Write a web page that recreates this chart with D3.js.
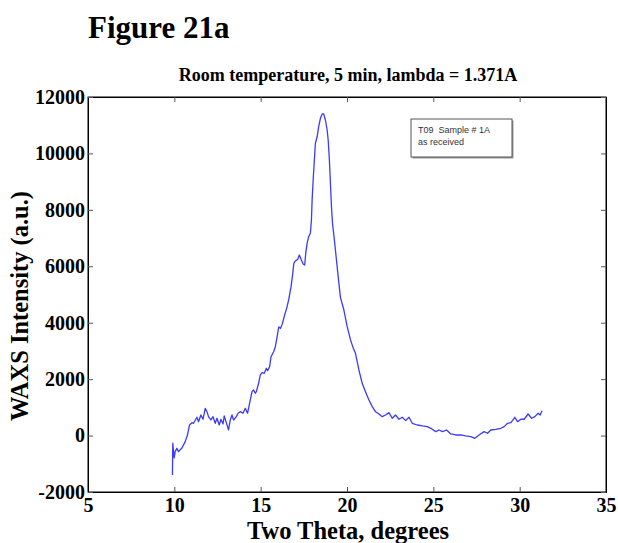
<!DOCTYPE html>
<html><head><meta charset="utf-8">
<script src="https://cdn.jsdelivr.net/npm/d3@7/dist/d3.min.js"></script>
<style>body{margin:0;background:#fff}svg{display:block}</style>
</head><body>
<svg id="c" width="618" height="543"></svg>
<script>
const figureLabel = "Figure 21a";
const chartTitle = "Room temperature, 5 min, lambda = 1.371A";
const xLabel = "Two Theta, degrees";
const yLabel = "WAXS Intensity (a.u.)";
const legendLines = ["T09  Sample # 1A", "as received"];
const xTicks = [5, 10, 15, 20, 25, 30, 35];
const yTicks = [-2000, 0, 2000, 4000, 6000, 8000, 10000, 12000];

const twoTheta = [9.89,9.91,9.99,10.05,10.15,10.24,10.44,10.63,10.76,10.88,11.02,11.11,11.31,11.40,11.54,11.66,11.79,11.89,11.98,12.12,12.24,12.37,12.47,12.60,12.70,12.82,12.89,13.01,13.14,13.24,13.34,13.43,13.59,13.69,13.82,13.98,14.11,14.24,14.40,14.50,14.59,14.69,14.75,14.88,14.98,15.08,15.21,15.33,15.40,15.52,15.60,15.75,15.85,15.95,16.05,16.15,16.25,16.40,16.50,16.62,16.76,16.86,16.92,17.01,17.15,17.24,17.34,17.46,17.55,17.61,17.69,17.78,17.88,17.94,17.98,18.04,18.11,18.17,18.27,18.36,18.46,18.56,18.65,18.75,18.85,18.91,18.98,19.04,19.10,19.16,19.27,19.39,19.51,19.62,19.82,20.01,20.20,20.36,20.49,20.69,20.88,21.07,21.27,21.46,21.65,21.85,22.04,22.23,22.43,22.62,22.81,23.01,23.20,23.40,23.59,23.78,24.07,24.36,24.65,24.85,25.14,25.33,25.53,25.77,26.01,26.30,26.59,26.88,27.17,27.40,27.65,27.94,28.14,28.33,28.62,28.91,29.10,29.30,29.49,29.72,29.88,30.07,30.26,30.49,30.69,30.88,31.07,31.19,31.29];
const intensity = [-1400,-270,-790,-570,-450,-570,-440,-215,20,375,457,435,650,493,730,578,967,847,670,553,670,436,613,375,578,411,695,457,198,553,730,553,670,790,847,790,967,790,1262,1560,1616,1500,1556,1853,2148,2229,2208,2385,2300,2442,2796,2973,3150,3500,3850,3800,3950,4300,4500,4806,5277,5750,6106,6188,6248,6400,6248,6082,6046,6460,6815,7050,7170,7640,8350,9060,9770,10360,10590,10950,11245,11400,11400,11185,10830,10476,9770,8940,8113,7524,6930,6220,5513,4900,4450,3860,3400,3100,2917,2325,1853,1556,1262,1025,847,765,670,730,812,613,730,578,648,530,648,436,375,340,316,258,139,198,139,198,57,21,21,-14,-39,-96,21,139,81,198,223,258,316,436,457,648,493,578,578,765,613,670,790,730,882];

const svg = d3.select("#c");
const L = 88, R = 606, T = 97, B = 492;
const x = d3.scaleLinear().domain([5, 35]).range([L, R]);
const y = d3.scaleLinear().domain([-2000, 12000]).range([B, T]);
const serif = "'Liberation Serif','Times New Roman',serif";

svg.append("text").attr("x", 88).attr("y", 38).attr("font-family", serif)
  .attr("font-weight", "bold").attr("font-size", 31).text(figureLabel);

svg.append("text").attr("x", 348).attr("y", 81).attr("text-anchor", "middle")
  .attr("font-family", serif).attr("font-weight", "bold").attr("font-size", 18).text(chartTitle);

svg.append("rect").attr("x", L).attr("y", T).attr("width", R - L).attr("height", B - T)
  .attr("fill", "#fff").attr("stroke", "#000").attr("stroke-width", 1);

const tl = 5;
const fmt = d => String(d);
const gx = svg.append("g").attr("transform", `translate(0,${B})`)
  .call(d3.axisBottom(x).tickValues(xTicks).tickSize(-tl).tickPadding(4).tickFormat(fmt));
svg.append("g").attr("transform", `translate(0,${T})`)
  .call(d3.axisTop(x).tickValues(xTicks).tickSize(-tl).tickFormat(""));
const gy = svg.append("g").attr("transform", `translate(${L},0)`)
  .call(d3.axisLeft(y).tickValues(yTicks).tickSize(-tl).tickPadding(3).tickFormat(fmt));
svg.append("g").attr("transform", `translate(${R},0)`)
  .call(d3.axisRight(y).tickValues(yTicks).tickSize(-tl).tickFormat(""));

svg.selectAll(".domain").attr("stroke", "#000");
svg.selectAll(".tick line").attr("stroke", "#555");
svg.selectAll(".tick text").attr("font-family", serif).attr("font-weight", "bold")
  .attr("font-size", 20).attr("fill", "#000");
gx.selectAll(".tick text").attr("dy", "0.8em");

const line = d3.line().x((d, i) => x(twoTheta[i])).y(d => y(d));
svg.append("path").datum(intensity).attr("d", line).attr("fill", "none")
  .attr("stroke", "#3a3aff").attr("stroke-width", 1.3).attr("stroke-linejoin", "round");

const lg = svg.append("g").attr("transform", "translate(411,119)");
lg.append("rect").attr("x", 1.5).attr("y", 1.5).attr("width", 101).attr("height", 38).attr("fill", "#999");
lg.append("rect").attr("width", 101).attr("height", 38).attr("fill", "#fff").attr("stroke", "#555");
legendLines.forEach((t, i) => lg.append("text").attr("x", 7).attr("y", 14 + i * 12)
  .style("white-space", "pre")
  .attr("font-family", "'Liberation Sans',Arial,sans-serif").attr("font-size", 9).attr("fill", "#333").text(t));

svg.append("text").attr("x", 348).attr("y", 539).attr("text-anchor", "middle")
  .attr("font-family", serif).attr("font-weight", "bold").attr("font-size", 24.5).text(xLabel);

svg.append("text").attr("transform", `translate(28,306) rotate(-90)`)
  .attr("text-anchor", "middle").attr("font-family", serif).attr("font-weight", "bold")
  .attr("font-size", 24.5).text(yLabel);
</script>
</body></html>
